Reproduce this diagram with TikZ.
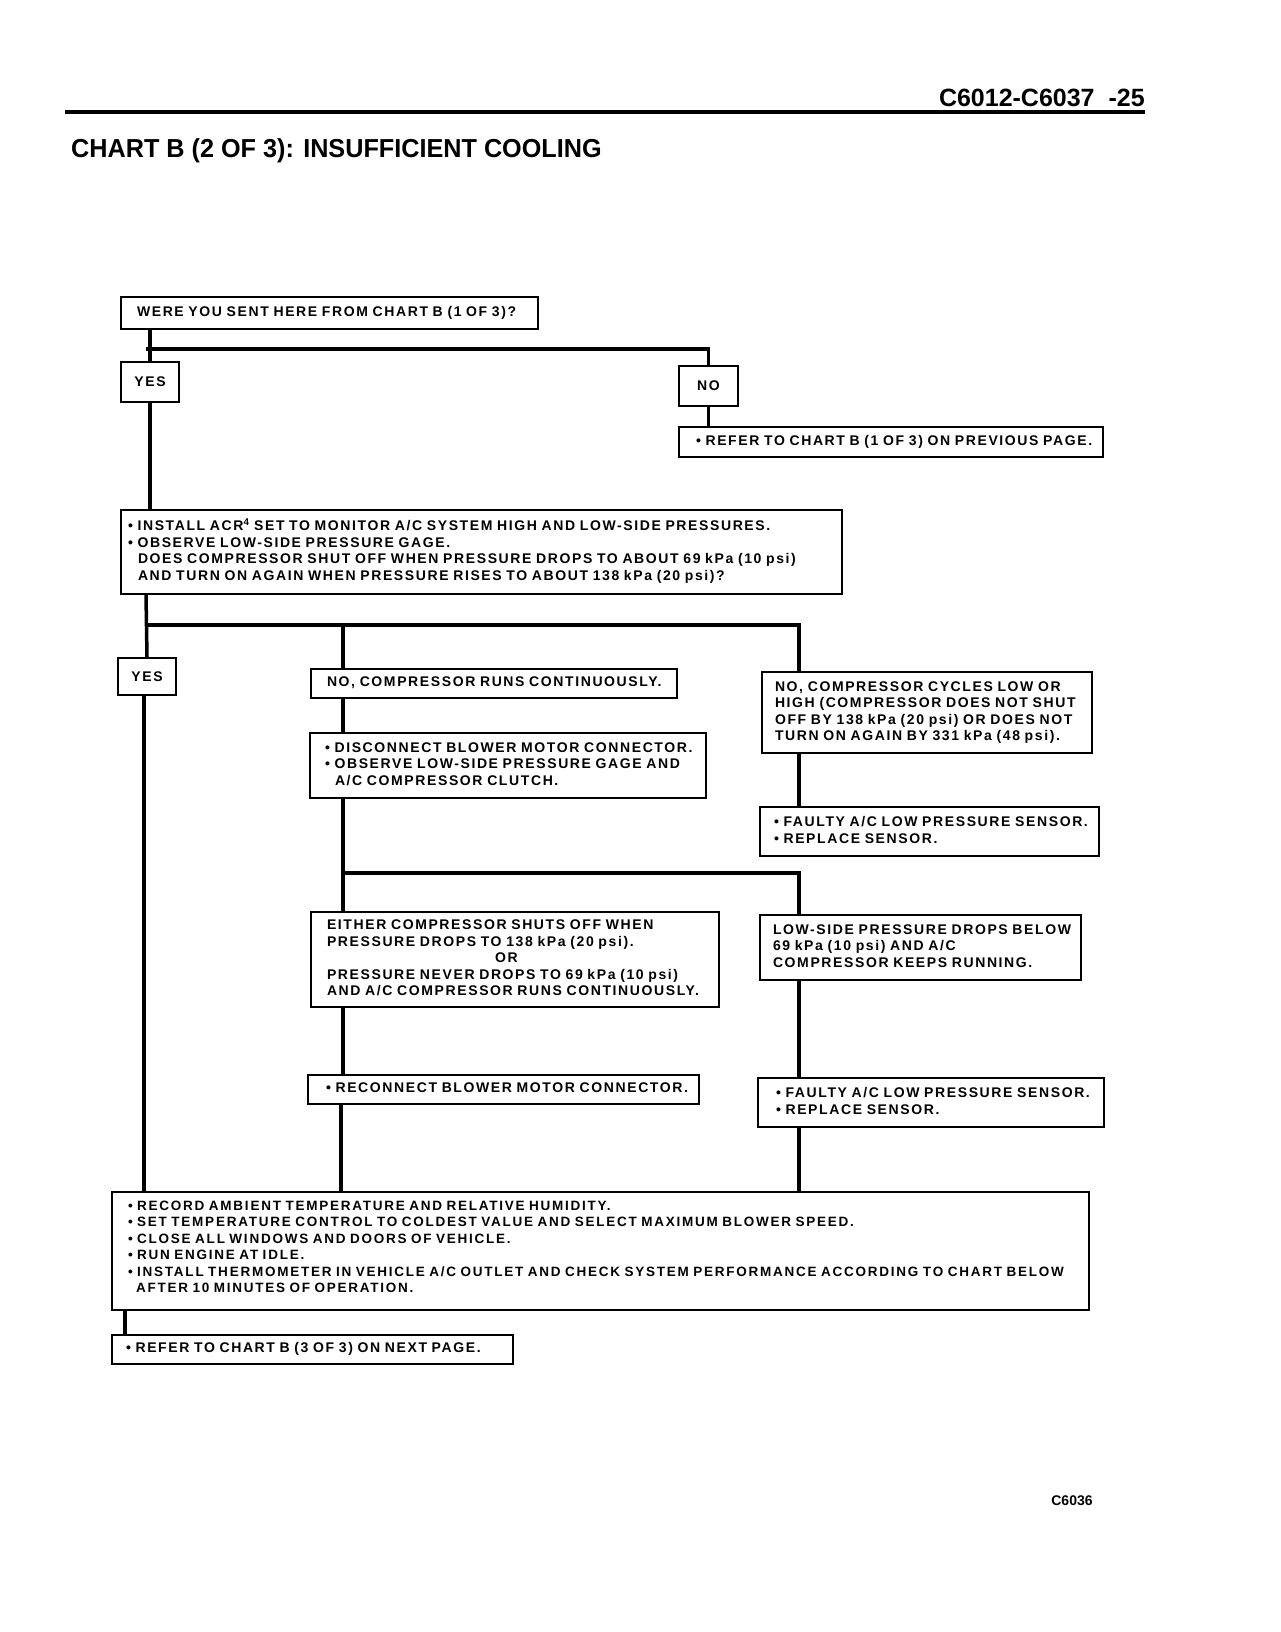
\documentclass[tikz,border=0pt]{standalone}
\usepackage{fontspec}
\setmainfont{Liberation Sans}
\newfontfamily\chartfont{Liberation Sans}[LetterSpace=11.5]
\newfontfamily\bigfont{Liberation Sans}[LetterSpace=13]
\newfontfamily\titlefont{Liberation Sans}[FakeStretch=0.97]
\newfontfamily\headfont{Liberation Sans}
\newcommand\Tx[1]{\begin{tabular}{@{}l@{}}#1\end{tabular}}
\begin{document}
\begin{tikzpicture}[x=1pt,y=-1pt,
  box/.style={draw,line width=2pt,anchor=north west,align=left,inner ysep=0pt,
    font={\chartfont\bfseries\fontsize{14}{16.5}\selectfont}},
  ansbox/.style={box,align=center,inner xsep=0pt},
  conn/.style={line width=3.5pt}]
\useasboundingbox (0,0) rectangle (1280,1632);
\fill[white] (0,0) rectangle (1280,1632);
% header
\draw[line width=4pt] (65,112) -- (1145,112);
\node[anchor=base east,inner sep=0pt,font={\headfont\bfseries\fontsize{25}{25}\selectfont}] (hdr) at (1145,107) {C6012-C6037\hspace{14pt}-25};
\node[anchor=base west,inner sep=0pt,font={\titlefont\bfseries\fontsize{26}{26}\selectfont}] (title) at (71,158) {CHART B (2 OF 3): INSUFFICIENT COOLING};
\node[inner sep=0pt,font={\headfont\bfseries\fontsize{14}{14}\selectfont}] (code) at (1072,1501) {C6036};
% boxes
\node[box,minimum width=417pt,minimum height=32pt,inner xsep=16pt,text width=385pt] (q1) at (120,296) {\Tx{WERE YOU SENT HERE FROM CHART B (1 OF 3)?}};
\node[ansbox,minimum width=58pt,minimum height=40pt] (yes1) at (120,361) {YES};
\node[ansbox,minimum width=59pt,minimum height=40pt] (no1) at (678,365) {NO};
\node[box,minimum width=424pt,minimum height=30pt,inner xsep=17pt,text width=390pt] (ref1) at (678,426) {\Tx{\textbullet\ REFER TO CHART B (1 OF 3) ON PREVIOUS PAGE.}};
\node[box,minimum width=721pt,minimum height=84pt,inner xsep=7pt,text width=707pt] (q2) at (120,509) {\Tx{\textbullet\ INSTALL ACR\textsuperscript{4} SET TO MONITOR A/C SYSTEM HIGH AND LOW-SIDE PRESSURES.\\
\textbullet\ OBSERVE LOW-SIDE PRESSURE GAGE.\\
\hspace*{10pt}DOES COMPRESSOR SHUT OFF WHEN PRESSURE DROPS TO ABOUT 69 kPa (10 psi)\\
\hspace*{10pt}AND TURN ON AGAIN WHEN PRESSURE RISES TO ABOUT 138 kPa (20 psi)?}};
\node[ansbox,minimum width=58pt,minimum height=37pt] (yes2) at (117,657) {YES};
\node[box,minimum width=366pt,minimum height=29pt,inner xsep=16pt,text width=334pt] (norun) at (310,668) {\Tx{NO, COMPRESSOR RUNS CONTINUOUSLY.}};
\node[box,minimum width=330pt,minimum height=81pt,inner xsep=13pt,text width=304pt] (cycles) at (761,671) {\Tx{NO, COMPRESSOR CYCLES LOW OR\\HIGH (COMPRESSOR DOES NOT SHUT\\OFF BY 138 kPa (20 psi) OR DOES NOT\\TURN ON AGAIN BY 331 kPa (48 psi).}};
\node[box,minimum width=396pt,minimum height=65pt,inner xsep=15pt,text width=366pt] (disc) at (309,732) {\Tx{\textbullet\ DISCONNECT BLOWER MOTOR CONNECTOR.\\
\textbullet\ OBSERVE LOW-SIDE PRESSURE GAGE AND\\
\hspace*{10pt}A/C COMPRESSOR CLUTCH.}};
\node[box,minimum width=339pt,minimum height=49pt,inner xsep=14pt,text width=311pt] (faulty1) at (759,806) {\Tx{\textbullet\ FAULTY A/C LOW PRESSURE SENSOR.\\\textbullet\ REPLACE SENSOR.}};
\node[box,minimum width=408pt,minimum height=95pt,inner xsep=16pt,text width=376pt] (either) at (310,911) {\Tx{EITHER COMPRESSOR SHUTS OFF WHEN\\PRESSURE DROPS TO 138 kPa (20 psi).\\\hspace*{168pt}OR\\PRESSURE NEVER DROPS TO 69 kPa (10 psi)\\AND A/C COMPRESSOR RUNS CONTINUOUSLY.}};
\node[box,minimum width=321pt,minimum height=65pt,inner xsep=13pt,text width=295pt] (lowside) at (759,914) {\Tx{LOW-SIDE PRESSURE DROPS BELOW\\69 kPa (10 psi) AND A/C\\COMPRESSOR KEEPS RUNNING.}};
\node[box,minimum width=391pt,minimum height=29pt,inner xsep=18pt,text width=355pt] (recon) at (307,1074) {\Tx{\textbullet\ RECONNECT BLOWER MOTOR CONNECTOR.}};
\node[box,minimum width=346pt,minimum height=49pt,inner xsep=18pt,text width=310pt] (faulty2) at (757,1077) {\Tx{\textbullet\ FAULTY A/C LOW PRESSURE SENSOR.\\\textbullet\ REPLACE SENSOR.}};
\node[box,minimum width=977pt,minimum height=118pt,inner xsep=16pt,text width=945pt,font={\bigfont\bfseries\fontsize{13.5}{16.5}\selectfont}] (big) at (111,1191) {\Tx{\textbullet\ RECORD AMBIENT TEMPERATURE AND RELATIVE HUMIDITY.\\
\textbullet\ SET TEMPERATURE CONTROL TO COLDEST VALUE AND SELECT MAXIMUM BLOWER SPEED.\\
\textbullet\ CLOSE ALL WINDOWS AND DOORS OF VEHICLE.\\
\textbullet\ RUN ENGINE AT IDLE.\\
\textbullet\ INSTALL THERMOMETER IN VEHICLE A/C OUTLET AND CHECK SYSTEM PERFORMANCE ACCORDING TO CHART BELOW\\
\hspace*{8pt}AFTER 10 MINUTES OF OPERATION.}\vspace*{6pt}};
\node[box,minimum width=401pt,minimum height=29pt,inner xsep=14pt,text width=373pt] (ref2) at (111,1334) {\Tx{\textbullet\ REFER TO CHART B (3 OF 3) ON NEXT PAGE.}};
% junctions
\coordinate (j1) at (146,349);
\coordinate (j2) at (146,625);
\coordinate (j3) at (343,873);
% connectors
\draw[conn] (q1.south -| yes1.north) -- (yes1.north);
\draw[conn] (j1) -| (no1.north);
\draw[conn] (no1.south) -- (ref1.north -| no1.south);
\draw[conn] (yes1.south) -- (q2.north -| yes1.south);
\draw[conn] (q2.south -| j2) -- (yes2.north);
\draw[conn] (j2) -- (j2 -| 799,0) -- (cycles.north -| 799,0);
\draw[conn] (norun.north -| 343,0) -- (j2 -| 343,0);
\draw[conn] (norun.south -| 343,0) -- (disc.north -| 343,0);
\draw[conn] (cycles.south -| 799,0) -- (faulty1.north -| 799,0);
\draw[conn] (disc.south -| j3) -- (either.north -| j3);
\draw[conn] (j3) -| (lowside.north -| 799,0);
\draw[conn] (either.south -| j3) -- (recon.north -| j3);
\draw[conn] (lowside.south -| 799,0) -- (faulty2.north -| 799,0);
\draw[conn] (recon.south -| 341,0) -- (big.north -| 341,0);
\draw[conn] (faulty2.south -| 799,0) -- (big.north -| 799,0);
\draw[conn] (yes2.south -| 144,0) -- (big.north -| 144,0);
\draw[conn] (big.south -| 125,0) -- (ref2.north -| 125,0);
\end{tikzpicture}
\end{document}
